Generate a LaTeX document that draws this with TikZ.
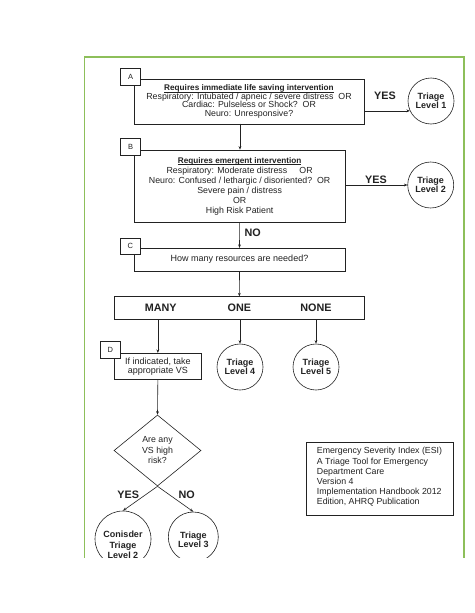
\documentclass[tikz,border=0pt]{standalone}
\usepackage{fontspec}
\setmainfont{Liberation Sans}
\usetikzlibrary{shapes.geometric,arrows.meta}
\definecolor{frameg}{HTML}{8DBF5A}
\definecolor{ink}{HTML}{222222}
\newcommand\myul[1]{\setbox0\hbox{#1}\leavevmode\rlap{\rule[-1.6pt]{\wd0}{0.55pt}}\box0}
\begin{document}
\begin{tikzpicture}[x=1pt,y=-1pt,
  every node/.style={text=ink},
  mainbox/.style={draw=ink, line width=0.7pt, rectangle, inner sep=0pt, align=center},
  lblbox/.style={draw=ink, line width=0.7pt, fill=white, rectangle, inner sep=0pt, font=\fontsize{7.5}{8}\selectfont},
  levelc/.style={draw=ink, line width=0.6pt, circle, inner sep=0pt, align=center, font=\bfseries\fontsize{9}{8.6}\selectfont},
  levelt/.style={inner sep=0pt, align=center, font=\bfseries\fontsize{9}{10.3}\selectfont},
  arr/.style={draw=ink, line width=0.6pt, -{Stealth[length=3.5pt,width=2.8pt]}},
  bigword/.style={font=\bfseries\fontsize{10.8}{11}\selectfont, inner sep=0pt},
  sidetext/.style={font=\fontsize{8.8}{10.2}\selectfont, align=left, inner sep=0pt}
]
\useasboundingbox (0,0) rectangle (474,613);
\fill[white] (0,0) rectangle (474,613);
\begin{scope}
\clip (0,0) rectangle (474,557);
% frame
\draw[frameg, line width=1.6pt] (84.5,560) -- (84.5,56.7) -- (464,56.7) -- (464,560);

% Box A
\node[mainbox, minimum width=230pt, minimum height=45pt,
  font=\fontsize{8.8}{8.4}\selectfont] (A) at (249,101.5)
  {\myul{\bfseries\fontsize{8.2}{8.4}\selectfont Requires immediate life saving intervention}\\
   Respiratory: Intubated / apneic / severe distress\ \ OR\\
   Cardiac: Pulseless or Shock?\ \ OR\\
   Neuro: Unresponsive?};
\node[lblbox, minimum width=20pt, minimum height=16.7pt] (la) at (130.7,76.7) {A};

% Box B
\node[mainbox, minimum width=210.7pt, minimum height=72.7pt,
  font=\fontsize{8.8}{10}\selectfont] (B) at (239.65,186.35)
  {\myul{\bfseries\fontsize{8.2}{10}\selectfont Requires emergent intervention}\\
   Respiratory: Moderate distress\ \ \ \ \ OR\\
   Neuro: Confused / lethargic / disoriented?\ \ OR\\
   Severe pain / distress\\
   OR\\
   High Risk Patient};
\node[lblbox, minimum width=20pt, minimum height=16.7pt] (lb) at (130.7,146.7) {B};

% Level 1 and 2
\node[levelc, minimum size=46pt] (L1) at (431,101) {Triage\\Level 1};
\node[levelc, minimum size=46pt] (L2) at (430.7,185) {Triage\\Level 2};
\draw[arr] (A.east |- L1.205) -- (L1.205);
\draw[arr] (B.east |- L2.west) -- (L2.west);
\node[bigword] (yes1) at (385,96) {YES};
\node[bigword] (yes2) at (376,180) {YES};

% A -> B
\draw[arr] (B.north -| 240,0) ++(0,-26) -- (B.north -| 240,0);

% Box C
\node[mainbox, minimum width=211pt, minimum height=22.7pt,
  font=\fontsize{9}{10}\selectfont] (C) at (239.5,259.65)
  {How many resources are needed?};
\node[lblbox, minimum width=20.7pt, minimum height=16pt] (lc) at (130.35,246) {C};
\draw[arr] (B.south) -- (C.north);
\node[bigword] (no1) at (252.7,233) {NO};

% Many box
\node[mainbox, minimum width=250.7pt, minimum height=22.6pt] (M) at (239.35,308) {};
\node[bigword] (many) at (160.7,307.5) {MANY};
\node[bigword] (one) at (239.3,307.5) {ONE};
\node[bigword] (none) at (316,307.5) {NONE};
\draw[arr] (C.south) -- (M.north);

% D box
\node[mainbox, minimum width=87.7pt, minimum height=26pt,
  font=\fontsize{9}{9}\selectfont] (D) at (157.85,366.3)
  {If indicated, take\\appropriate VS};
\node[lblbox, minimum width=20.7pt, minimum height=16.6pt] (ld) at (110.35,350) {D};

\node[levelc, minimum size=46pt] (L4) at (240,367) {Triage\\Level 4};
\node[levelc, minimum size=46pt] (L5) at (316,367) {Triage\\Level 5};
\draw[arr] (D.north |- M.south) -- (D.north);
\draw[arr] (L4.north |- M.south) -- (L4.north);
\draw[arr] (L5.north |- M.south) -- (L5.north);

% Diamond
\node[draw=ink, line width=0.6pt, diamond, inner sep=0pt, minimum width=87pt, minimum height=71pt,
  align=center, font=\fontsize{8.8}{10.5}\selectfont] (Q) at (157.5,450.5)
  {Are any\\VS high\\risk?};
\draw[arr] (D.south) -- (Q.north);

\node[levelc, minimum size=56pt] (CL2) at (123,539) {};
\node[levelt] (CL2t) at (123,545) {Conisder\\Triage\\Level 2};
\node[levelc, minimum size=50pt] (L3) at (193.3,537) {};
\node[levelt, font=\bfseries\fontsize{9}{8.6}\selectfont] (L3t) at (193.3,539.5) {Triage\\Level 3};
\draw[arr] (Q.south) -- (CL2.north);
\draw[arr] (Q.south) -- (L3.north);
\node[bigword] (yes3) at (128.3,495) {YES};
\node[bigword] (no3) at (186.7,495) {NO};

% info box
\node[draw=ink, line width=0.6pt, rectangle, minimum width=147.7pt, minimum height=73pt] (info) at (379.85,479.2) {};
\node[sidetext, anchor=north west] (infot) at (316.7,447.3)
  {Emergency Severity Index (ESI)\\
   A Triage Tool for Emergency\\
   Department Care\\
   Version 4\\
   Implementation Handbook 2012\\
   Edition, AHRQ Publication};
\end{scope}
\end{tikzpicture}
\end{document}
